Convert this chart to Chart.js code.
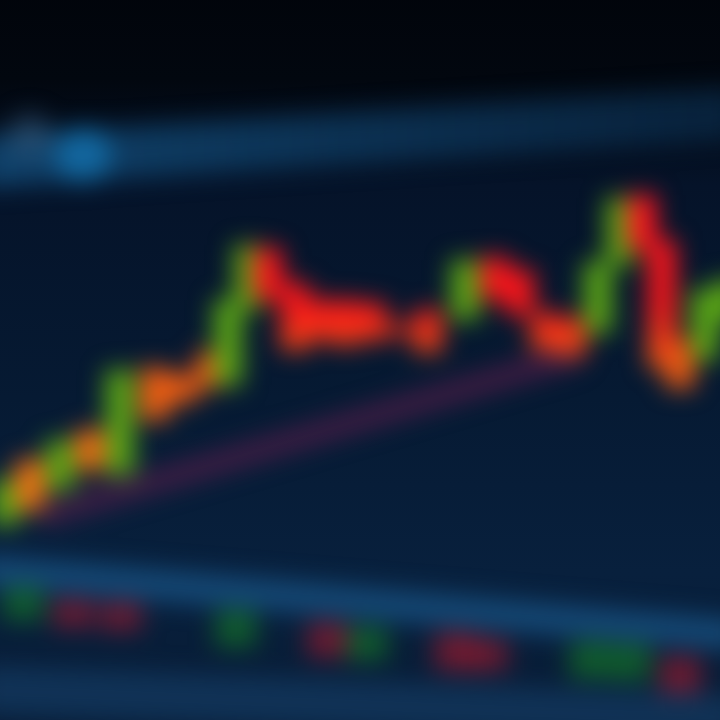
<!DOCTYPE html>
<html>
<head>
<meta charset="utf-8">
<script src="https://cdn.jsdelivr.net/npm/chart.js@4.4.1/dist/chart.umd.min.js"></script>
<style>
html, body { margin: 0; padding: 0; width: 720px; height: 720px; overflow: hidden; background: #061427; }
#wrap {
    position: absolute; left: -20px; top: -20px; width: 760px; height: 760px;
    background: linear-gradient(to bottom, #01040a 0%, #02070f 13%, #051329 27%, #061a33 55%, #08203d 78%, #081b34 100%);
}
canvas { display: block; filter: blur(12px); }
</style>
</head>
<body>
<div id="wrap"><canvas id="chartEl" width="760" height="760"></canvas></div>
<script>
/************ DATA ************/
// candles: session position, open, close (price units)
const candleX     = [5, 30, 60, 90, 120, 155, 183, 210, 228, 248, 268, 295, 320, 345, 372, 398, 428, 465, 495, 520, 545, 572, 598, 620, 642, 662, 680, 705, 728];
const candleOpen  = [195, 260, 230, 290, 245, 352, 345, 368, 335, 410, 472, 437, 420, 420, 417, 395, 410, 400, 463, 450, 407, 402, 387, 455, 525, 480, 380, 360, 400];
const candleClose = [240, 210, 280, 250, 350, 300, 318, 332, 420, 475, 420, 370, 380, 375, 380, 385, 368, 460, 420, 405, 370, 365, 458, 522, 470, 352, 332, 430, 440];

// volume strip
const volumeX    = [23, 73, 121, 236, 328, 367, 455, 487, 590, 630, 680];
const volumeLow  = [100, 93, 90, 73, 63, 60, 50, 50, 42, 40, 27];
const volumeHigh = [133, 120, 117, 110, 97, 93, 87, 80, 78, 76, 63];
const volumeUp   = [true, false, false, true, false, true, false, false, true, true, false];

// screen bands and trend line
const bandX      = [-20, 740];
const upperBand  = [558, 607];
const lowerBand  = [150, 85];
const floorBand  = [30, 0];
const trendX     = [40, 580];
const trendY     = [204, 366];
const glowX      = [83, 30];
const glowY      = [565, 585];

/************ HELPERS ************/
const pts = (xs, ys) => xs.map((x, i) => ({ x, y: ys[i] }));

function fallingFill(chart) {
    const y = chart.scales.y;
    if (!y) return "#f01520";
    const g = chart.ctx.createLinearGradient(0, y.getPixelForValue(530), 0, y.getPixelForValue(180));
    g.addColorStop(0, "#ff1420");
    g.addColorStop(0.33, "#f8161a");
    g.addColorStop(0.5, "#f05a12");
    g.addColorStop(1, "#f27a14");
    return g;
}

function bandFill(chart, left, right) {
    const a = chart.chartArea;
    if (!a) return left;
    const g = chart.ctx.createLinearGradient(a.left, 0, a.right, 0);
    g.addColorStop(0, left);
    g.addColorStop(1, right);
    return g;
}

/************ CHART ************/
const candles = candleX.map((x, i) => ({ x, y: [candleOpen[i], candleClose[i]] }));
const volumes = volumeX.map((x, i) => ({ x, y: [volumeLow[i], volumeHigh[i]] }));

new Chart(chartEl, {
    type: "bar",
    data: {
        datasets: [
            {
                type: "line", label: "upper", order: 9, clip: false,
                data: pts(bandX, upperBand),
                borderWidth: 52, pointRadius: 0,
                borderColor: c => bandFill(c.chart, "rgba(20,85,135,0.72)", "rgba(12,52,88,0.55)")
            },
            {
                type: "line", label: "glow", order: 8, showLine: false, clip: false,
                data: pts(glowX, glowY),
                pointRadius: [28, 22], borderWidth: 0,
                backgroundColor: ["rgba(20,112,172,0.8)", "rgba(60,100,135,0.45)"]
            },
            {
                type: "line", label: "lower", order: 9, clip: false,
                data: pts(bandX, lowerBand),
                borderWidth: 32, pointRadius: 0,
                borderColor: "rgba(28,95,150,0.62)"
            },
            {
                type: "line", label: "floor", order: 9, clip: false,
                data: pts(bandX, floorBand),
                borderWidth: 50, pointRadius: 0,
                borderColor: "rgba(24,72,118,0.5)"
            },
            {
                type: "line", label: "trend", order: 7,
                data: pts(trendX, trendY),
                borderWidth: 22, pointRadius: 0,
                borderColor: "rgba(105,30,78,0.6)"
            },
            {
                label: "volume", order: 3, grouped: false,
                data: volumes,
                barThickness: 40, borderWidth: 0,
                backgroundColor: c => volumeUp[c.dataIndex] ? "rgba(20,115,40,0.7)" : "rgba(150,25,45,0.7)"
            },
            {
                label: "price", order: 1, grouped: false,
                data: candles,
                barThickness: 28, borderWidth: 0, borderSkipped: false,
                backgroundColor: c => {
                    const r = c.raw;
                    if (!r) return "#5aa516";
                    return r.y[1] > r.y[0] ? "#5aa516" : fallingFill(c.chart);
                }
            }
        ]
    },
    options: {
        responsive: false,
        animation: false,
        layout: { padding: 0, autoPadding: false },
        plugins: { legend: { display: false }, tooltip: { enabled: false } },
        scales: {
            x: { type: "linear", min: -20, max: 740, offset: false, display: false },
            y: { min: -20, max: 740, display: false }
        }
    }
});
</script>
</body>
</html>
